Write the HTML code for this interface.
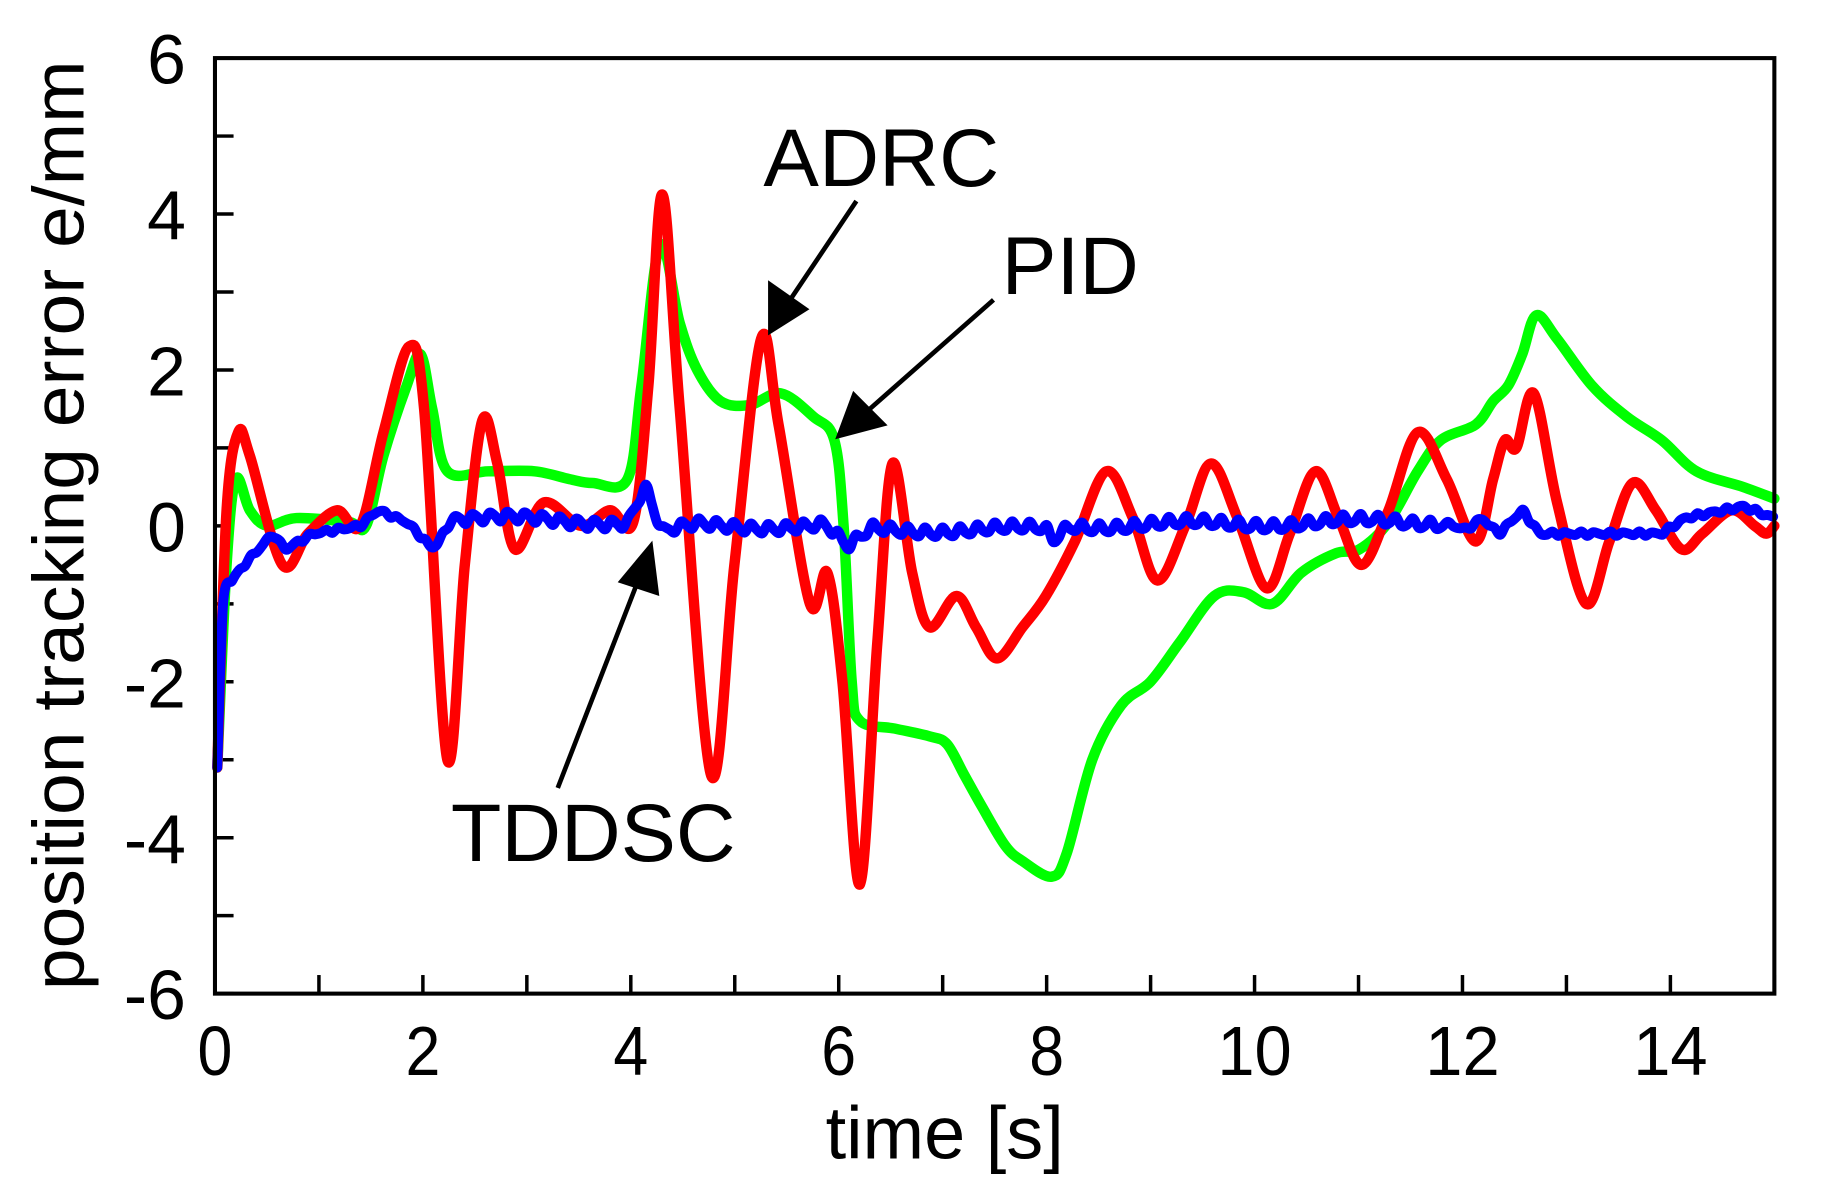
<!DOCTYPE html>
<html><head><meta charset="utf-8"><style>
html,body{margin:0;padding:0;background:#fff;width:1822px;height:1197px;overflow:hidden}
svg{display:block}
text{font-family:"Liberation Sans",Arial,sans-serif;fill:#000}
</style></head><body>
<svg id="s" width="1822" height="1197" viewBox="0 0 1568 1030" preserveAspectRatio="none">
<g id="ticks" stroke="#000" stroke-width="3"></g>
<g id="lines" fill="none" stroke-linejoin="round" stroke-linecap="round" stroke-width="9"></g>
<rect x="185" y="50" width="1342" height="805" fill="none" stroke="#000" stroke-width="3.5"/>
<g font-size="60" text-anchor="end" id="yl"></g>
<g font-size="60" text-anchor="middle" id="xl"></g>
<text x="813" y="997" font-size="64" text-anchor="middle" textLength="205" lengthAdjust="spacingAndGlyphs">time [s]</text>
<text transform="translate(72,452) rotate(-90)" font-size="62" text-anchor="middle" textLength="800" lengthAdjust="spacingAndGlyphs">position tracking error e/mm</text>
<text x="657" y="160" font-size="70" textLength="203" lengthAdjust="spacingAndGlyphs">ADRC</text>
<text x="862" y="253" font-size="70" textLength="118" lengthAdjust="spacingAndGlyphs">PID</text>
<text x="388" y="741" font-size="70" textLength="245" lengthAdjust="spacingAndGlyphs">TDDSC</text>
<g stroke="#000" stroke-width="4" fill="#000">
<line x1="737" y1="173" x2="680" y2="258"/><polygon points="663,285 663,245 693,266"/>
<line x1="855" y1="258" x2="745" y2="355"/><polygon points="722,375 735,340 760,365"/>
<line x1="480" y1="678" x2="549" y2="500"/><polygon points="560,470 535,500 565,510"/>
</g>
</svg>
<script>
var X0=185,XS=89.4667,Y0=452.5,YS=67.083;
var t=document.getElementById('ticks'),h='';
for(var i=0;i<=15;i++){var x=X0+i*XS;h+='<line x1="'+x+'" y1="855" x2="'+x+'" y2="'+(855-16)+'"/>';}
for(var v=-6;v<=6;v++){var y=Y0-v*YS;h+='<line x1="185" y1="'+y+'" x2="201" y2="'+y+'"/>';}
t.innerHTML=h;
var xl='';for(var i=0;i<=14;i+=2){xl+='<text x="'+(X0+i*XS)+'" y="925" textLength="'+(i>=10?64:30)+'" lengthAdjust="spacingAndGlyphs">'+i+'</text>';}
document.getElementById('xl').innerHTML=xl;
var yl='';for(var v=-6;v<=6;v+=2){yl+='<text x="160" y="'+(Y0-v*YS+22)+'">'+v+'</text>';}
document.getElementById('yl').innerHTML=yl;
function cr(p){var d='M'+p[0][0]+','+p[0][1];for(var i=0;i<p.length-1;i++){var p0=p[i-1]||p[i],p1=p[i],p2=p[i+1],p3=p[i+2]||p2;
d+=' C'+(p1[0]+(p2[0]-p0[0])/6)+','+(p1[1]+(p2[1]-p0[1])/6)+' '+(p2[0]-(p3[0]-p1[0])/6)+','+(p2[1]-(p3[1]-p1[1])/6)+' '+p2[0]+','+p2[1];}return d;}
function v2(a){return a.map(function(q){return [q[0],Y0-q[1]*YS];});}
var red=v2([[187,-3.1],[195,0.2],[205,1.2],[215,0.9],[243,-0.5],[265,-0.1],[290,0.2],[310,0],[330,1.2],[352,2.3],[365,1.5],[385,-3],[400,-0.5],[415,1.35],[428,0.8],[443,-0.3],[468,0.3],[500,0],[525,0.2],[545,0.05],[558,1.8],[570,4.25],[585,1.5],[612,-3.2],[632,-0.5],[655,2.4],[670,1.3],[697,-1.0],[712,-0.6],[725,-2],[740,-4.6],[755,-1.5],[768,0.8],[785,-0.6],[800,-1.3],[823,-0.9],[840,-1.3],[858,-1.7],[880,-1.3],[900,-0.9],[925,-0.2],[952,0.7],[975,0.1],[996,-0.7],[1020,0],[1042,0.8],[1065,0.1],[1090,-0.8],[1110,-0.1],[1132,0.7],[1152,0.1],[1172,-0.5],[1195,0.2],[1220,1.2],[1245,0.6],[1270,-0.2],[1285,0.6],[1295,1.1],[1305,1.0],[1320,1.7],[1340,0.3],[1365,-1.0],[1385,-0.2],[1405,0.55],[1425,0.2],[1447,-0.3],[1465,-0.1],[1490,0.2],[1510,0],[1520,-0.1],[1527,0]]);
var grn=v2([[187,-3.1],[195,-0.5],[203,0.6],[215,0.2],[230,0],[255,0.1],[300,0.05],[315,0],[330,0.9],[350,1.8],[362,2.2],[372,1.5],[385,0.7],[420,0.7],[460,0.7],[490,0.6],[510,0.55],[540,0.6],[552,1.8],[568,3.6],[585,2.6],[600,2.0],[620,1.6],[645,1.55],[672,1.7],[700,1.4],[718,1.1],[726,0],[733,-2.0],[740,-2.5],[770,-2.6],[800,-2.7],[815,-2.8],[830,-3.2],[845,-3.6],[865,-4.1],[880,-4.3],[905,-4.5],[918,-4.2],[940,-3.0],[965,-2.3],[990,-2.0],[1015,-1.5],[1045,-0.9],[1070,-0.85],[1095,-1.0],[1120,-0.6],[1150,-0.35],[1170,-0.3],[1195,0.05],[1220,0.7],[1240,1.1],[1270,1.3],[1285,1.6],[1298,1.8],[1310,2.2],[1322,2.7],[1340,2.4],[1370,1.8],[1400,1.4],[1430,1.1],[1460,0.7],[1500,0.5],[1527,0.35]]);
var bk=[[187,-3.1],[192,-1.0],[200,-0.7],[210,-0.5],[235,-0.1],[245,-0.3],[270,-0.1],[310,0],[325,0.2],[350,0.05],[373,-0.3],[390,0.1],[540,0.05],[555,0.5],[570,-0.1],[600,0],[710,0],[730,-0.3],[750,-0.05],[900,-0.05],[905,-0.2],[920,0],[1200,0.05],[1240,0.05],[1262,-0.05],[1275,0.1],[1290,-0.1],[1310,0.2],[1325,-0.1],[1430,-0.1],[1450,0.1],[1500,0.25],[1527,0.1]];
function interp(x){for(var i=0;i<bk.length-1;i++){if(x>=bk[i][0]&&x<=bk[i+1][0]){var f=(x-bk[i][0])/(bk[i+1][0]-bk[i][0]);return bk[i][1]+f*(bk[i+1][1]-bk[i][1]);}}return 0;}
var bl=[[187,-3.1],[192,-1.0],[200,-0.7]];
for(var x=206;x<=1527;x+=5){var n=(x>400&&x<1250)?0.07*Math.sin(x*0.42)+0.04*Math.sin(x*1.3):0.03*Math.sin(x*0.5);bl.push([x,interp(x)+n]);}
bl=v2(bl);
document.getElementById('lines').innerHTML='<path d="'+cr(grn)+'" stroke="#00ff00"/><path d="'+cr(red)+'" stroke="#ff0000"/><path d="'+cr(bl)+'" stroke="#0000ff" stroke-width="8.5"/>';
</script>
</body></html>
